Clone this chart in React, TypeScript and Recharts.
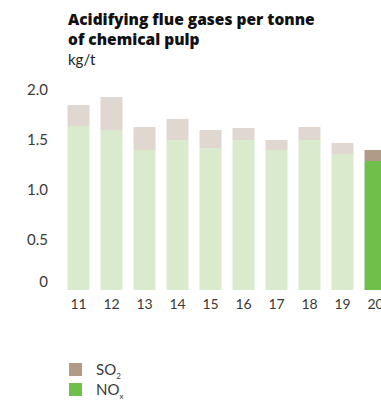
import React from 'react'
import { BarChart, Bar, XAxis, YAxis, Cell } from 'recharts'

// years (20xx) and emissions in kg per tonne of chemical pulp
const years = ['11', '12', '13', '14', '15', '16', '17', '18', '19', '20']
const noxValues = [1.64, 1.6, 1.4, 1.5, 1.42, 1.5, 1.4, 1.5, 1.36, 1.29]
const so2Values = [0.21, 0.33, 0.23, 0.21, 0.18, 0.12, 0.1, 0.13, 0.11, 0.11]
const yTicks = [0, 0.5, 1, 1.5, 2]

const noxColor = '#6fbf4a'
const noxFaded = '#d9eacd'
const so2Color = '#b09a88'
const so2Faded = '#e0d7d0'
const textColor = '#3a3a3a'
const font = 'Lato, "Open Sans", sans-serif'

const data = years.map((year, i) => ({ year, nox: noxValues[i], so2: so2Values[i] }))
const last = years.length - 1

function YTick(props: any) {
  const { x, y, payload } = props
  const label = payload.value === 0 ? '0' : payload.value.toFixed(1)
  // the zero label sits a bit above the baseline in the original
  const shift = payload.value === 0 ? -8 : 0
  return (
    <text x={x} y={y + shift} dy="0.36em" textAnchor="end" fill={textColor} fontSize={15} fontFamily={font}>
      {label}
    </text>
  )
}

function LegendRow({ top, color, name, sub }: { top: number; color: string; name: string; sub: string }) {
  return (
    <div style={{ position: 'absolute', left: 69, top, height: 16, display: 'flex', alignItems: 'center' }}>
      <span style={{ width: 13, height: 13, background: color, marginRight: 14 }} />
      <span style={{ lineHeight: '16px' }}>
        {name}
        <sub style={{ fontSize: 8, lineHeight: 0 }}>{sub}</sub>
      </span>
    </div>
  )
}

export default function App() {
  // pinned to the page's top-left so positions are page pixels
  return (
    <div
      style={{
        position: 'absolute',
        left: 0,
        top: 0,
        width: 381,
        height: 400,
        overflow: 'hidden',
        fontFamily: font,
        color: '#111',
      }}
    >
      <div
        style={{
          position: 'absolute',
          left: 68,
          top: 9,
          fontSize: 15.5,
          fontWeight: 800,
          lineHeight: '20px',
          fontFamily: '"Open Sans", sans-serif',
          whiteSpace: 'nowrap',
        }}
      >
        Acidifying flue gases per tonne
        <br />
        of chemical pulp
      </div>
      <div style={{ position: 'absolute', left: 68, top: 52, fontSize: 15, lineHeight: '14px', color: '#222' }}>kg/t</div>

      <div style={{ position: 'absolute', left: 8, top: 8 }}>
        <BarChart
          width={400}
          height={320}
          data={data}
          margin={{ top: 82, right: 16, bottom: 8, left: 0 }}
          barCategoryGap="16.7%"
        >
          <YAxis
            width={54}
            domain={[0, 2]}
            ticks={yTicks}
            axisLine={false}
            tickLine={false}
            tickMargin={8}
            tick={<YTick />}
          />
          <XAxis
            dataKey="year"
            height={30}
            axisLine={false}
            tickLine={false}
            tickMargin={3}
            tick={{ fill: textColor, fontSize: 14, fontFamily: font }}
            interval={0}
          />
          <Bar dataKey="nox" stackId="a" isAnimationActive={false}>
            {data.map((d, i) => (
              <Cell key={d.year} fill={i === last ? noxColor : noxFaded} />
            ))}
          </Bar>
          <Bar dataKey="so2" stackId="a" isAnimationActive={false}>
            {data.map((d, i) => (
              <Cell key={d.year} fill={i === last ? so2Color : so2Faded} />
            ))}
          </Bar>
        </BarChart>
      </div>

      <div style={{ fontSize: 15, color: textColor }}>
        <LegendRow top={361} color={so2Color} name="SO" sub="2" />
        <LegendRow top={381} color={noxColor} name="NO" sub="x" />
      </div>
    </div>
  )
}
